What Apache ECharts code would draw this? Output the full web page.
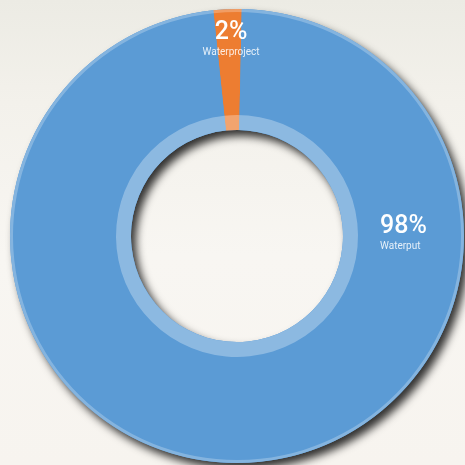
<!DOCTYPE html>
<html>
<head>
<meta charset="utf-8">
<script src="https://cdn.jsdelivr.net/npm/echarts@6/dist/echarts.min.js"></script>
<style>
  html, body { margin: 0; padding: 0; }
  body {
    width: 465px; height: 465px; overflow: hidden;
    background: linear-gradient(180deg, #ecebe4 0%, #f3f1eb 22%, #f8f6f2 55%, #f7f4ef 100%);
  }
  #chart { width: 465px; height: 465px; }
</style>
</head>
<body>
<div id="chart"></div>
<script>
  // data
  const names = ['Waterproject', 'Waterput'];
  const values = [2, 98];
  const colors = ['#ed7d31', '#5b9bd5'];

  const center = [237, 236];
  const startAngle = 96;

  // where each label sits (text layout only)
  const labelSpots = [
    { x: 231, y: 21, align: 'center' },
    { x: 380, y: 215, align: 'left' }
  ];

  const pieData = names.map(function (n, i) {
    return { name: n, value: values[i], itemStyle: { color: colors[i] } };
  });

  const chart = echarts.init(document.getElementById('chart'));
  chart.setOption({
    backgroundColor: 'transparent',
    animation: false,
    series: [
      {
        // shadow under the whole ring
        type: 'pie', silent: true, z: 1,
        center: center, radius: [106, 227], startAngle: startAngle,
        label: { show: false }, labelLine: { show: false },
        itemStyle: {
          color: '#5b9bd5', borderWidth: 0,
          shadowBlur: 9, shadowColor: 'rgba(0,0,0,0.8)',
          shadowOffsetX: 5, shadowOffsetY: 6
        },
        data: [{ value: values.reduce(function (a, b) { return a + b; }, 0) }]
      },
      {
        type: 'pie', silent: true, z: 2,
        center: center, radius: [106, 227], startAngle: startAngle,
        itemStyle: { borderWidth: 0 },
        labelLine: { show: false },
        label: {
          show: true,
          formatter: function (p) { return '{p|' + p.value + '%}\n{n|' + p.name + '}'; },
          rich: {
            p: { fontFamily: 'Roboto', fontSize: 25, fontWeight: 500, color: '#ffffff', lineHeight: 24 },
            n: { fontFamily: 'Roboto', fontSize: 10, color: 'rgba(255,255,255,0.85)', lineHeight: 14 }
          }
        },
        labelLayout: function (params) {
          const s = labelSpots[params.dataIndex];
          return { x: s.x, y: s.y, align: s.align, verticalAlign: 'top' };
        },
        data: pieData
      },
      {
        // lighter inner band
        type: 'pie', silent: true, z: 3,
        center: center, radius: [106, 121], startAngle: startAngle,
        label: { show: false }, labelLine: { show: false },
        itemStyle: { color: 'rgba(255,255,255,0.3)', borderWidth: 0 },
        data: [{ value: 1 }]
      },
      {
        // lighter outer rim
        type: 'pie', silent: true, z: 3,
        center: center, radius: [224, 227], startAngle: startAngle,
        label: { show: false }, labelLine: { show: false },
        itemStyle: { color: 'rgba(255,255,255,0.25)', borderWidth: 0 },
        data: [{ value: 1 }]
      }
    ]
  });
</script>
</body>
</html>
